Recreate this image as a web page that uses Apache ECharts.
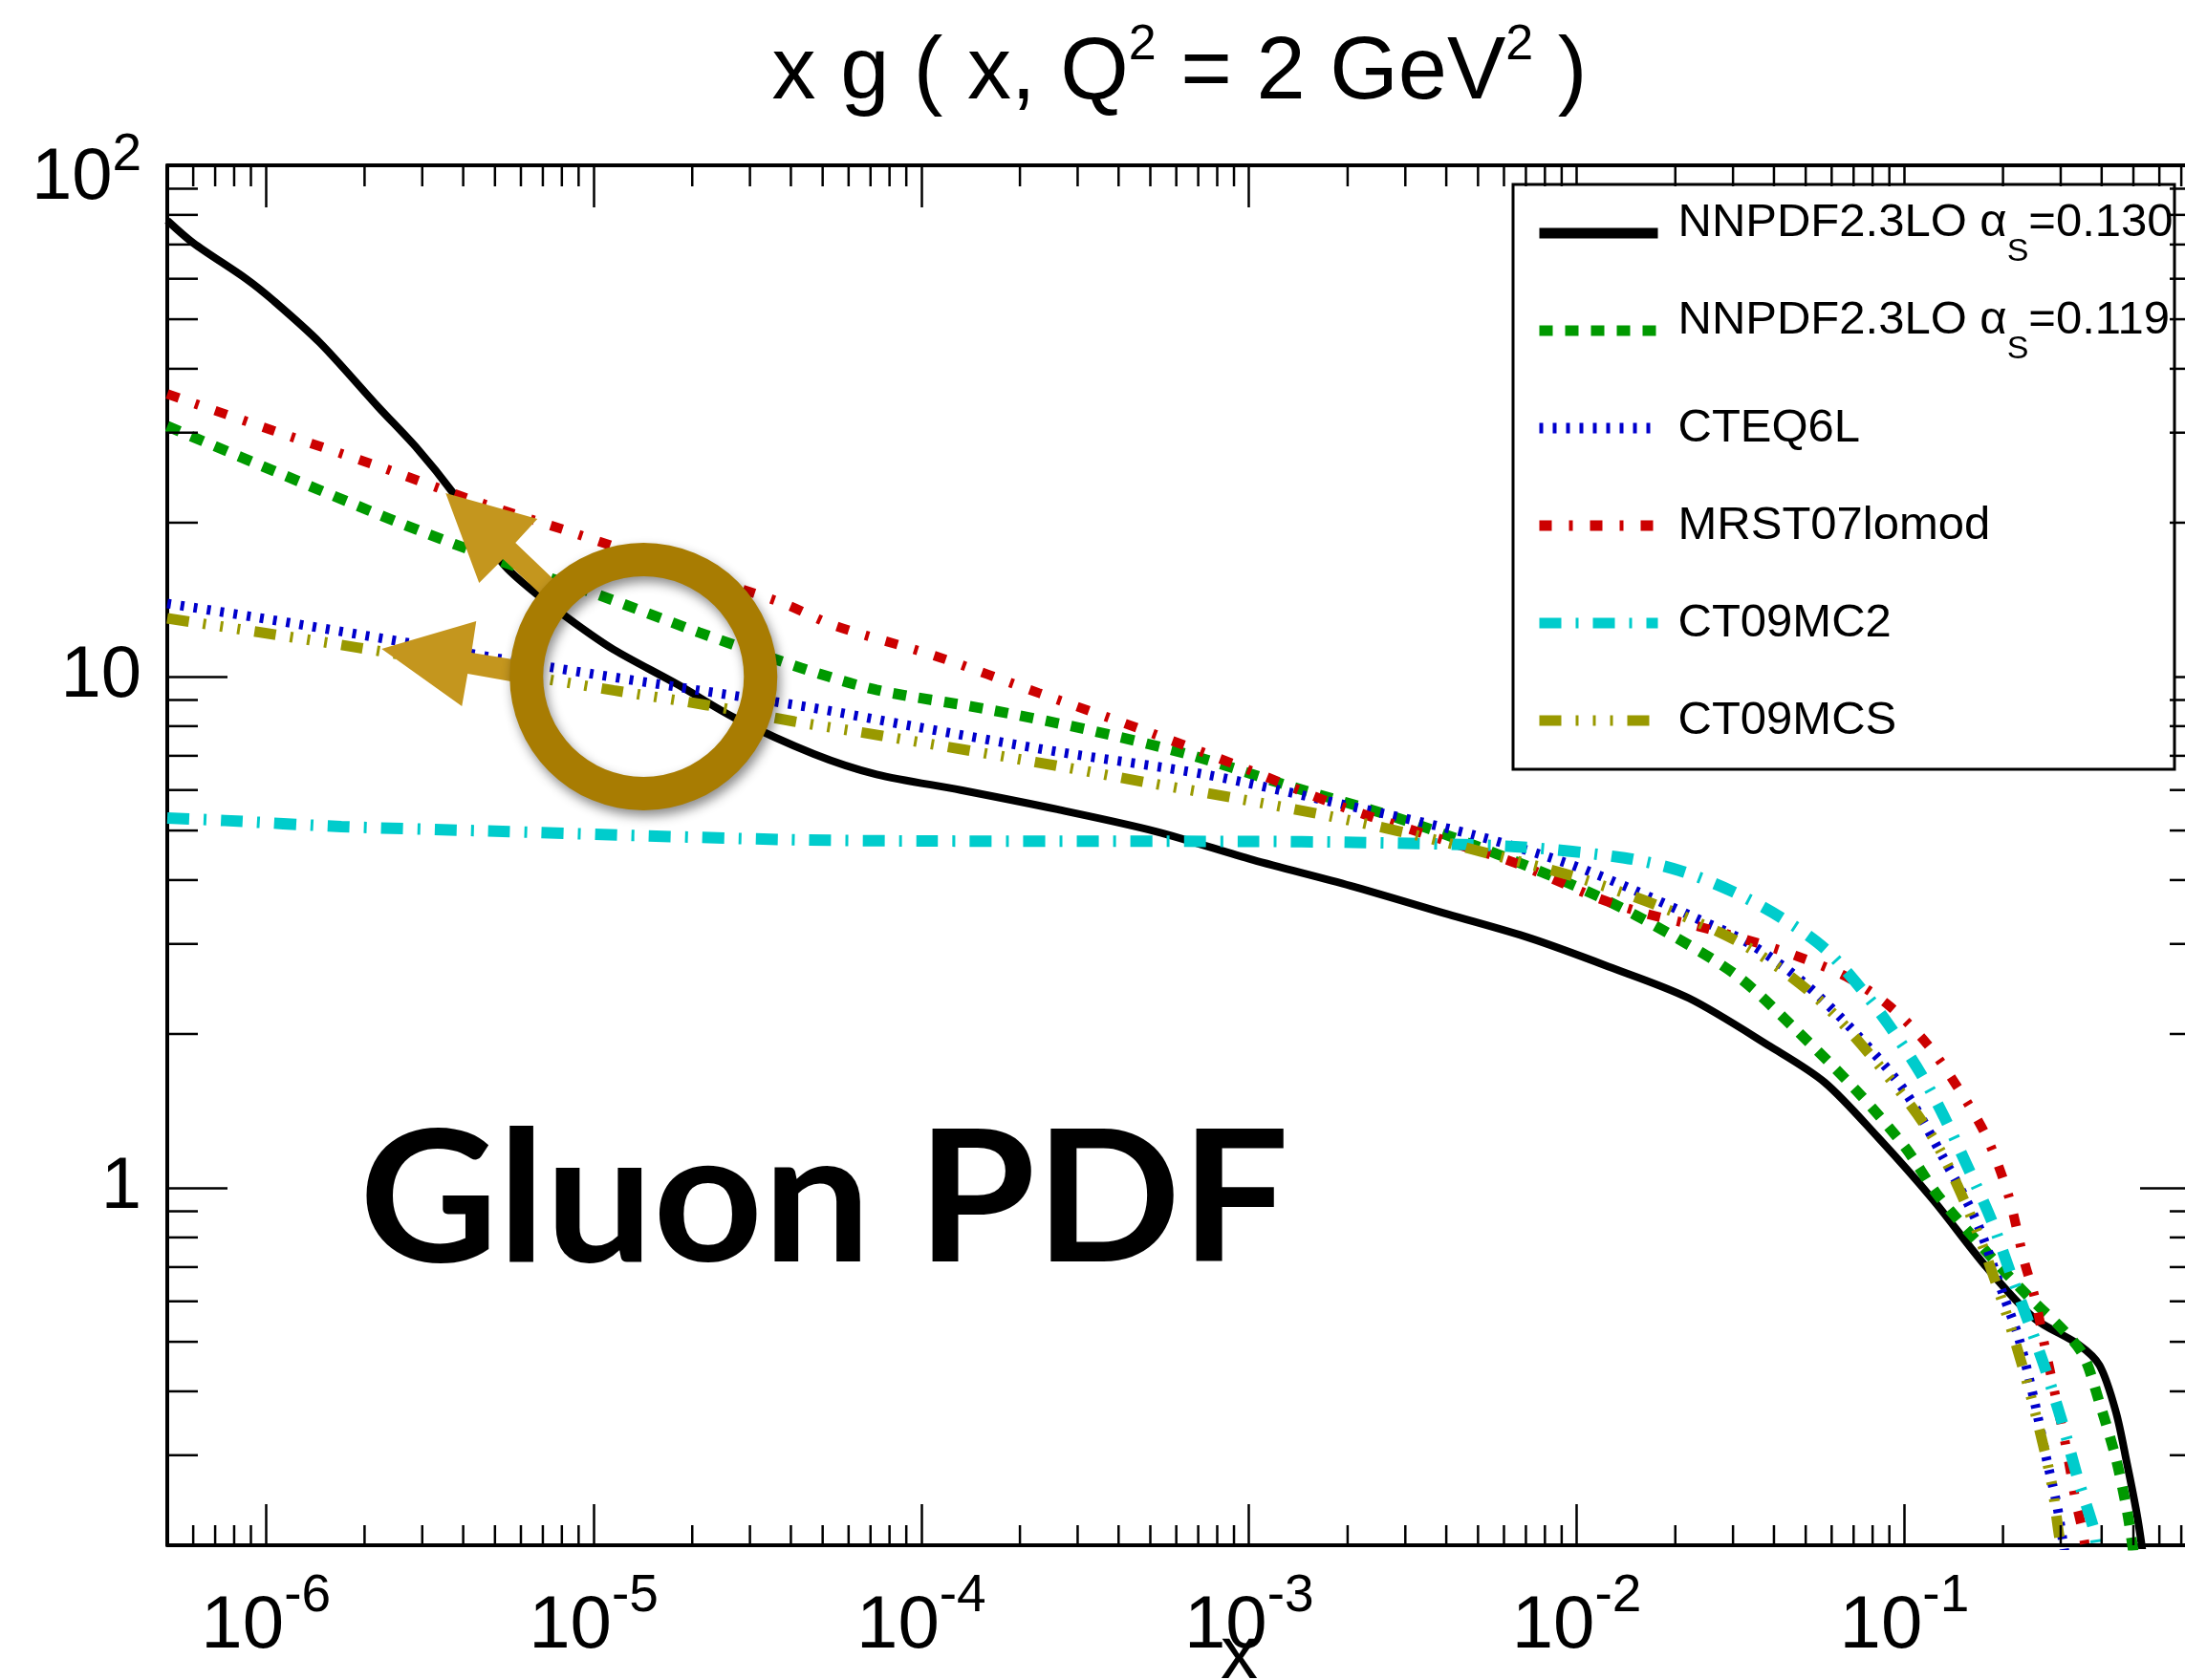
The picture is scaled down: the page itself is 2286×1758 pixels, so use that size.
<!DOCTYPE html>
<html>
<head>
<meta charset="utf-8">
<title>x g(x, Q2 = 2 GeV2)</title>
<script src="https://cdn.jsdelivr.net/npm/echarts@6/dist/echarts.min.js"></script>
<style>
  html, body { margin: 0; padding: 0; background: #fff; }
  #chart { width: 2286px; height: 1758px; }
</style>
</head>
<body>
<div id="chart"></div>
<script>
// x g(x, Q^2 = 2 GeV^2) for a few LO gluon PDF sets

const xRange = [5e-7, 0.8];
const yRange = [0.2, 100];

const seriesNames = [
  'NNPDF2.3LO αS=0.130',
  'NNPDF2.3LO αS=0.119',
  'CTEQ6L',
  'MRST07lomod',
  'CT09MC2',
  'CT09MCS'
];

// [x, x g(x)]
const nnpdf130 = [
  [5e-7, 78], [6e-7, 70.5], [8.7e-7, 60], [1.05e-6, 54.5], [1.46e-6, 45], [2.2e-6, 33.7],
  [2.9e-6, 27.9], [3.7e-6, 23], [5.3e-6, 16.6], [6.7e-6, 14.5], [8.8e-6, 12.7], [1.15e-5, 11.3],
  [1.8e-5, 9.66], [2.7e-5, 8.3], [4.7e-5, 7.06], [7.3e-5, 6.44], [1.32e-4, 6.0], [2.6e-4, 5.5],
  [5.2e-4, 4.98], [1.03e-3, 4.38], [2.04e-3, 3.9], [4.04e-3, 3.43], [7.2e-3, 3.08], [0.0125, 2.71],
  [0.022, 2.35], [0.039, 1.89], [0.057, 1.61], [0.083, 1.256], [0.122, 0.95], [0.178, 0.70],
  [0.25, 0.555], [0.34, 0.494], [0.394, 0.45], [0.442, 0.365], [0.478, 0.289], [0.51, 0.234],
  [0.53, 0.20], [0.54, 0.18]
];
const nnpdf119 = [
  [5e-7, 30.9], [1.05e-6, 25.3], [2.5e-6, 20.1], [5.1e-6, 16.9], [1.02e-5, 14.5], [2.1e-5, 12.2],
  [4.3e-5, 10.4], [7.3e-5, 9.42], [1.56e-4, 8.65], [3.2e-4, 7.88], [6.6e-4, 7.03], [1.35e-3, 6.09],
  [2.87e-3, 5.28], [5.7e-3, 4.5], [0.0116, 3.72], [0.0197, 3.11], [0.0311, 2.59], [0.047, 2.03],
  [0.0714, 1.55], [0.1006, 1.20], [0.126, 0.97], [0.178, 0.75], [0.241, 0.61], [0.303, 0.53],
  [0.352, 0.47], [0.394, 0.38], [0.442, 0.296], [0.478, 0.234], [0.495, 0.203], [0.505, 0.185]
];
const cteq6l = [
  [5e-7, 13.9], [1.05e-6, 12.9], [2.6e-6, 11.7], [7.6e-6, 10.4], [2.1e-5, 9.4], [4.6e-5, 8.7],
  [9.4e-5, 8.0], [2.6e-4, 7.13], [7.3e-4, 6.44], [2.04e-3, 5.58], [4.8e-3, 4.91], [9.2e-3, 4.33],
  [0.0146, 3.85], [0.0229, 3.38], [0.0335, 3.01], [0.049, 2.53], [0.0714, 2.0], [0.1, 1.55],
  [0.132, 1.14], [0.166, 0.86], [0.2, 0.62], [0.224, 0.506], [0.25, 0.38], [0.27, 0.30],
  [0.292, 0.24], [0.303, 0.208], [0.31, 0.19]
];
const mrst07lomod = [
  [5e-7, 35.7], [1.05e-6, 30.3], [2.2e-6, 25.8], [4.3e-6, 22.1], [9e-6, 18.96], [1.8e-5, 16.3],
  [3.8e-5, 13.9], [5.4e-5, 12.6], [1.11e-4, 10.96], [2.28e-4, 9.29], [4.68e-4, 7.89], [9.3e-4, 6.69],
  [1.9e-3, 5.58], [4.04e-3, 4.76], [6.5e-3, 4.32], [0.0112, 3.72], [0.0157, 3.46], [0.0229, 3.26],
  [0.0335, 3.05], [0.047, 2.84], [0.0664, 2.59], [0.09, 2.27], [0.1175, 1.91], [0.1476, 1.55],
  [0.178, 1.26], [0.2075, 0.97], [0.232, 0.72], [0.25, 0.61], [0.27, 0.48], [0.292, 0.38],
  [0.315, 0.30], [0.333, 0.245], [0.35, 0.213], [0.36, 0.19]
];
const ct09mc2 = [
  [5e-7, 5.29], [7.5e-7, 5.23], [1.7e-6, 5.09], [4.7e-6, 4.99], [3.8e-5, 4.8], [1e-4, 4.77],
  [1e-3, 4.76], [2.1e-3, 4.74], [6.5e-3, 4.65], [0.014, 4.42], [0.0205, 4.18], [0.0299, 3.80],
  [0.042, 3.38], [0.0571, 2.94], [0.0743, 2.44], [0.0898, 2.08], [0.113, 1.66], [0.132, 1.38],
  [0.159, 1.07], [0.185, 0.86], [0.211, 0.68], [0.241, 0.54], [0.27, 0.44], [0.303, 0.348],
  [0.339, 0.269], [0.38, 0.213], [0.39, 0.19]
];
const ct09mcs = [
  [5e-7, 13.0], [1.05e-6, 12.1], [1.9e-6, 11.4], [1.15e-5, 9.4], [2.2e-5, 8.8], [4.1e-5, 8.17],
  [7.6e-5, 7.66], [2.6e-4, 6.69], [4.8e-4, 6.22], [9e-4, 5.79], [1.72e-3, 5.35], [3.18e-3, 4.91],
  [5.65e-3, 4.47], [0.0104, 4.02], [0.019, 3.50], [0.0335, 2.95], [0.055, 2.33], [0.0834, 1.74],
  [0.122, 1.256], [0.159, 0.885], [0.2, 0.594], [0.241, 0.40], [0.28, 0.269], [0.297, 0.208],
  [0.305, 0.19]
];

const curves = [nnpdf130, nnpdf119, cteq6l, mrst07lomod, ct09mc2, ct09mcs];

// where the highlight ring sits, in data coordinates
const ringAt = [1.42e-5, 10];

// line look of each set (ROOT style dashes)
const lineLooks = [
  { color: '#000000', width: 8, type: 'solid' },
  { color: '#009900', width: 11, type: [14, 13] },
  { color: '#0000cc', width: 10, type: [4, 10] },
  { color: '#cc0000', width: 10, type: [13, 18, 4, 18] },
  { color: '#00cccc', width: 12, type: [23, 15, 3, 15] },
  { color: '#999900', width: 11, type: [23, 15, 3, 15, 3, 15, 3, 15] }
];

// minor ticks at 2..9 of every decade
const mantissas = [2, 3, 4, 5, 6, 7, 8, 9];
const xMinor = [];
const yMinor = [];
for (let e = -7; e <= 1; e++) {
  mantissas.forEach(m => {
    const v = m * Math.pow(10, e);
    if (v > xRange[0] * 1.001 && v < xRange[1] * 0.999) xMinor.push(v);
    if (v > yRange[0] * 1.001 && v < yRange[1] * 0.999) yMinor.push(v);
  });
}

const FONT = 'Liberation Sans, Arial, Helvetica, sans-serif';
const black = '#000';
const tickStyle = { stroke: black, lineWidth: 2.5 };

function decade(v) {
  const l = Math.log10(v);
  const p = Math.round(l);
  return Math.abs(l - p) < 1e-6 ? p : null;
}

function xLabel(v) {
  const p = decade(v);
  if (p === null) return '';
  return '{m|10}{s|' + p + '}';
}

function yLabel(v) {
  const p = decade(v);
  if (p === null) return '';
  if (p === 0) return '{n|1}';
  if (p === 1) return '{n|10}';
  return '{t|10}{s|' + p + '}';
}

function renderXMinor(params, api) {
  const v = api.value(0);
  const b = api.coord([v, yRange[0]]);
  const t = api.coord([v, yRange[1]]);
  return {
    type: 'group',
    children: [
      { type: 'line', shape: { x1: b[0], y1: b[1], x2: b[0], y2: b[1] - 21 }, style: tickStyle },
      { type: 'line', shape: { x1: t[0], y1: t[1], x2: t[0], y2: t[1] + 22 }, style: tickStyle }
    ]
  };
}

function renderYMinor(params, api) {
  const v = api.value(1);
  const l = api.coord([xRange[0], v]);
  const r = api.coord([xRange[1], v]);
  return {
    type: 'group',
    children: [
      { type: 'line', shape: { x1: l[0], y1: l[1], x2: l[0] + 32, y2: l[1] }, style: tickStyle },
      { type: 'line', shape: { x1: r[0], y1: r[1], x2: r[0] - 32, y2: r[1] }, style: tickStyle }
    ]
  };
}

function logAxis(extra) {
  return Object.assign({
    type: 'log',
    logBase: 10,
    axisLine: { show: true, onZero: false, lineStyle: { color: black, width: 4 } },
    splitLine: { show: false },
    minorTick: { show: false },
    minorSplitLine: { show: false }
  }, extra);
}

const chart = echarts.init(document.getElementById('chart'));

const option = {
  animation: false,
  backgroundColor: '#fff',
  title: {
    text: '{t|x g ( x, Q}{s|2}{t| = 2 GeV}{s|2}{t| )}',
    left: 1234,
    top: 22,
    padding: 0,
    textAlign: 'center',
    textStyle: {
      fontWeight: 'normal',
      rich: {
        t: { fontFamily: FONT, fontSize: 92, fontWeight: 'normal', color: black },
        s: { fontFamily: FONT, fontSize: 52, fontWeight: 'normal', color: black, padding: [0, 0, 60, 0] }
      }
    }
  },
  grid: { left: 175, top: 173, right: -16, bottom: 141, containLabel: false, outerBoundsMode: 'none' },
  xAxis: [
    logAxis({
      position: 'bottom',
      min: xRange[0],
      max: xRange[1],
      axisTick: { show: true, inside: true, length: 43, lineStyle: { color: black, width: 2.5 } },
      axisLabel: {
        show: true, interval: 0, margin: 26, hideOverlap: false,
        formatter: xLabel,
        rich: {
          m: { fontFamily: FONT, fontSize: 78, color: black },
          s: { fontFamily: FONT, fontSize: 55, color: black, padding: [0, 0, 64, 0] }
        }
      },
      name: 'x',
      nameLocation: 'middle',
      nameGap: 78,
      nameMoveOverlap: false,
      nameTextStyle: { fontFamily: FONT, fontSize: 78, color: black, padding: [0, 0, 0, 116] }
    }),
    logAxis({
      position: 'top',
      min: xRange[0],
      max: xRange[1],
      axisTick: { show: true, inside: true, length: 44, lineStyle: { color: black, width: 2.5 } },
      axisLabel: { show: false }
    })
  ],
  yAxis: [
    logAxis({
      position: 'left',
      min: yRange[0],
      max: yRange[1],
      axisTick: { show: true, inside: true, length: 63, lineStyle: { color: black, width: 2.5 } },
      axisLabel: {
        show: true, interval: 0, margin: 27, hideOverlap: false,
        formatter: yLabel,
        rich: {
          n: { fontFamily: FONT, fontSize: 76, color: black },
          t: { fontFamily: FONT, fontSize: 76, color: black, padding: [28, 0, 0, 0] },
          s: { fontFamily: FONT, fontSize: 55, color: black, padding: [0, 0, 20, 0] }
        }
      }
    }),
    logAxis({
      position: 'right',
      min: yRange[0],
      max: yRange[1],
      axisTick: { show: true, inside: true, length: 63, lineStyle: { color: black, width: 2.5 } },
      axisLabel: { show: false }
    })
  ],
  legend: {
    orient: 'vertical',
    left: 1605,
    top: 204,
    padding: 0,
    itemWidth: 124,
    itemHeight: 100,
    itemGap: 22,
    selectedMode: false,
    data: seriesNames,
    lineStyle: { width: 11 },
    itemStyle: { opacity: 0 },
    textStyle: {
      color: black,
      rich: {
        a0: { fontFamily: FONT, fontSize: 49, color: black, padding: [0, 0, 22, 16] },
        a: { fontFamily: FONT, fontSize: 49, color: black, padding: [0, 0, 22, 0] },
        s: { fontFamily: FONT, fontSize: 34, color: black, padding: [40, 0, 0, 0] },
        p: { fontFamily: FONT, fontSize: 49, color: black, padding: [11, 0, 11, 16] }
      }
    },
    formatter: name => {
      const m = name.match(/^(.*α)S(=.*)$/);
      if (m) return '{a0|' + m[1] + '}{s|S}{a|' + m[2] + '}';
      return '{p|' + name + '}';
    }
  },
  series: curves.map((d, i) => ({
    name: seriesNames[i],
    type: 'line',
    data: d,
    symbol: 'none',
    smooth: 0.3,
    clip: true,
    z: 2 + i * 0.01,
    itemStyle: { color: lineLooks[i].color },
    lineStyle: {
      color: lineLooks[i].color,
      width: lineLooks[i].width,
      type: lineLooks[i].type,
      cap: 'butt'
    },
    emphasis: { disabled: true }
  })).concat([
    {
      type: 'custom',
      name: 'xMinorTicks',
      silent: true,
      xAxisIndex: 0, yAxisIndex: 0,
      data: xMinor.map(v => [v, yRange[0]]),
      renderItem: renderXMinor,
      z: 5
    },
    {
      type: 'custom',
      name: 'yMinorTicks',
      silent: true,
      xAxisIndex: 0, yAxisIndex: 0,
      data: yMinor.map(v => [xRange[0], v]),
      renderItem: renderYMinor,
      z: 5
    }
  ])
};

chart.setOption(option);

// annotations: legend frame, the ring with two arrows, and the big label
const c = chart.convertToPixel({ xAxisIndex: 0, yAxisIndex: 0 }, ringAt);
const gold = '#c4961e';
const arrowUp = [[-207, -192], [-111, -165], [-134, -140], [-88, -96], [-102, -81], [-147, -123], [-172, -98]];
const arrowLeft = [[-274, -29], [-175, -58], [-180, -25], [-118, -15], [-122, 8], [-184, -3], [-190, 31]];
const shift = pts => pts.map(p => [c[0] + p[0], c[1] + p[1]]);

chart.setOption({
  graphic: [
    {
      type: 'rect', z: 3,
      shape: { x: 1583, y: 193, width: 692, height: 612 },
      style: { fill: '#fff', stroke: black, lineWidth: 3 }
    },
    {
      type: 'text', z: 6,
      x: 376, y: 1258,
      scaleX: 1.047,
      style: {
        text: 'Gluon PDF',
        font: 'bold 191px Lato, "Open Sans", sans-serif',
        fill: black,
        align: 'left',
        verticalAlign: 'middle'
      }
    },
    { type: 'polygon', z: 19, shape: { points: shift(arrowUp) }, style: { fill: gold } },
    { type: 'polygon', z: 19, shape: { points: shift(arrowLeft) }, style: { fill: gold } },
    {
      type: 'ring', z: 20,
      shape: { cx: c[0], cy: c[1], r: 140, r0: 105 },
      style: {
        fill: '#a87c02',
        shadowBlur: 12,
        shadowOffsetX: 3,
        shadowOffsetY: 6,
        shadowColor: 'rgba(0,0,0,0.45)'
      }
    }
  ]
});
</script>
</body>
</html>
